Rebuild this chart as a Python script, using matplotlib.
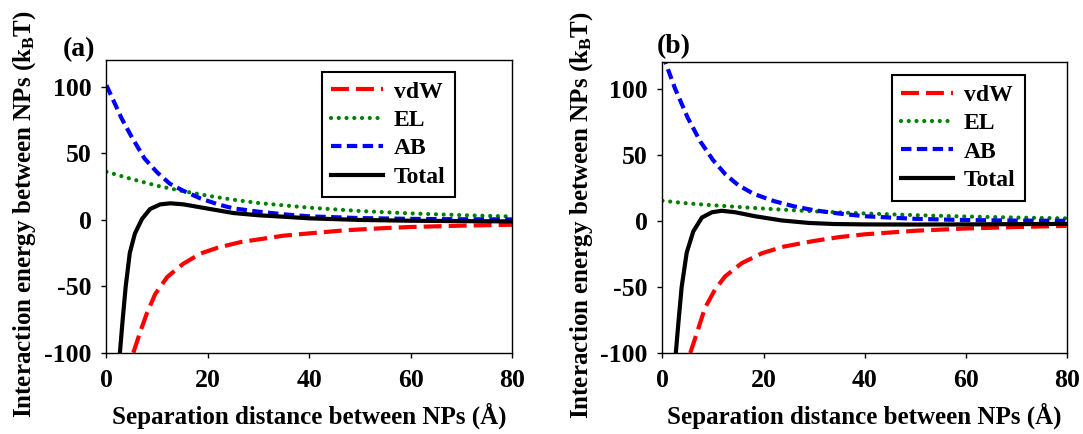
import matplotlib
matplotlib.use("Agg")
import matplotlib.pyplot as plt

# ---- data ----
# panel (a)
a_vdw_x = [5.3, 6.6, 8.0, 9.6, 12.0, 15.0, 18.5, 22.0, 26.5, 32.0, 35.0, 40.0, 47.0, 55.0, 60.0, 70.0, 80.0]
a_vdw_y = [-100, -85, -70, -56, -43, -33.5, -25.5, -21, -16.8, -13.7, -12, -10.3, -8, -6.3, -5.5, -4.5, -3.8]
a_el_x = [0, 5, 10, 15, 20, 25, 30, 40, 50, 60, 70, 80]
a_el_y = [36, 30.5, 25.5, 21.5, 18, 15, 12.5, 9, 6.5, 4.7, 3.4, 2.4]
a_ab_x = [0, 3, 5, 7.5, 10, 12.5, 15, 18.5, 22, 25, 30, 35, 40, 50, 60, 70, 80]
a_ab_y = [101, 76, 62, 46, 35.5, 27, 22, 16, 11.5, 8.5, 6, 4, 2.5, 1.2, 0.6, 0.3, 0.2]
a_tot_x = [2.65, 3.2, 3.8, 4.6, 5.6, 7.0, 8.6, 10.6, 12.6, 15.2, 20, 25, 30, 35, 40, 50, 60, 70, 80]
a_tot_y = [-100, -75, -50, -25, -10.5, 0.5, 8, 11.5, 12.3, 11.5, 8.3, 5, 3.3, 2.2, 1, -0.2, -0.8, -1.1, -1.3]

# panel (b)
b_vdw_x = [5.5, 6.8, 8.4, 10.4, 12.4, 15.7, 19.7, 24, 30, 35, 40, 50, 60, 70, 80]
b_vdw_y = [-100, -85, -66, -52, -42, -32, -24.5, -19.5, -15.2, -12.3, -10.2, -7.5, -5.8, -4.7, -3.8]
b_el_x = [0, 5, 10, 15, 20, 25, 30, 35, 40, 50, 60, 70, 80]
b_el_y = [15.2, 13.2, 11.8, 10.5, 9.3, 8.2, 7.2, 6.4, 5.6, 4.3, 3.3, 2.5, 1.9]
b_ab_x = [0, 2.5, 5, 7.5, 10, 12.5, 15, 18, 22, 26, 30, 35, 40, 50, 60, 70, 80]
b_ab_y = [126, 100, 78, 60, 46, 35, 27, 20.5, 15, 11, 8, 5.5, 3.5, 1.5, 0.6, 0.2, 0]
b_tot_x = [2.64, 3.2, 3.8, 4.8, 6.1, 7.8, 9.8, 11.7, 14.4, 18.3, 23.6, 29, 34, 40, 50, 60, 70, 80]
b_tot_y = [-100, -75, -50, -24, -8, 2.5, 6.5, 7.6, 6.5, 3.5, 0.3, -1.6, -2.4, -2.7, -2.8, -2.7, -2.5, -2.3]

series_names = ["vdW", "EL", "AB", "Total"]
x_ticks = [0, 20, 40, 60, 80]
y_ticks = [-100, -50, 0, 50, 100]

plt.rcParams["font.family"] = ["Liberation Serif", "DejaVu Serif"]
plt.rcParams["font.weight"] = "bold"
plt.rcParams["axes.unicode_minus"] = False
plt.rcParams["mathtext.fontset"] = "custom"
plt.rcParams["mathtext.rm"] = "Liberation Serif:bold"
plt.rcParams["mathtext.it"] = "Liberation Serif:bold"
plt.rcParams["mathtext.bf"] = "Liberation Serif:bold"

fig = plt.figure(figsize=(10.83, 4.34), dpi=100)
ax_a = fig.add_axes([0.0983, 0.1873, 0.3747, 0.6744])
ax_b = fig.add_axes([0.6117, 0.1866, 0.3732, 0.6700])

lw = 3.0


def draw_panel(ax, vdw, el, ab, tot, leg_anchor):
    ax.plot(vdw[0], vdw[1], color="#FF0000", lw=lw, ls=(0, (4.3, 1.7)), label=series_names[0])
    ax.plot(el[0], el[1], color="#008000", lw=lw, ls=(0, (0.01, 1.85)),
            dash_capstyle="round", label=series_names[1])
    ax.plot(ab[0], ab[1], color="#0000FF", lw=lw, ls=(0, (2.5, 1.3)), label=series_names[2])
    ax.plot(tot[0], tot[1], color="black", lw=lw, ls="-", label=series_names[3])

    ax.set_xlim(0, 80)
    ax.set_ylim(-100, 120)
    ax.set_xticks(x_ticks)
    ax.set_yticks(y_ticks)
    ax.tick_params(direction="out", length=3.6, width=1, labelsize=18.5, color="black")
    ax.tick_params(axis="x", pad=8)
    ax.tick_params(axis="y", pad=7)
    for sp in ax.spines.values():
        sp.set_linewidth(1.0)

    ax.set_xlabel("Separation distance between NPs (Å)", fontsize=18, fontweight="bold")
    ax.set_ylabel(r"Interaction energy between NPs (k$_{\mathrm{B}}$T)", fontsize=18, fontweight="bold")
    ax.xaxis.set_label_coords(0.5, -0.17)

    leg = ax.legend(loc="upper right", bbox_to_anchor=leg_anchor, fontsize=17,
                    handlelength=2.2, handletextpad=0.45, labelspacing=0.29,
                    borderpad=0.4, borderaxespad=0, fancybox=False, framealpha=1)
    leg.get_frame().set_edgecolor("black")
    leg.get_frame().set_linewidth(1.5)


draw_panel(ax_a, (a_vdw_x, a_vdw_y), (a_el_x, a_el_y), (a_ab_x, a_ab_y),
           (a_tot_x, a_tot_y), (0.859, 0.960))
draw_panel(ax_b, (b_vdw_x, b_vdw_y), (b_el_x, b_el_y), (b_ab_x, b_ab_y),
           (b_tot_x, b_tot_y), (0.897, 0.956))

ax_a.yaxis.set_label_coords(-0.168, 0.475)
ax_b.yaxis.set_label_coords(-0.168, 0.475)

fig.text(79 / 1083, 1 - 50 / 434, "(a)", fontsize=20, fontweight="bold", ha="center", va="center")
fig.text(674 / 1083, 1 - 47 / 434, "(b)", fontsize=20, fontweight="bold", ha="center", va="center")

fig.savefig("out.png", dpi=100)
